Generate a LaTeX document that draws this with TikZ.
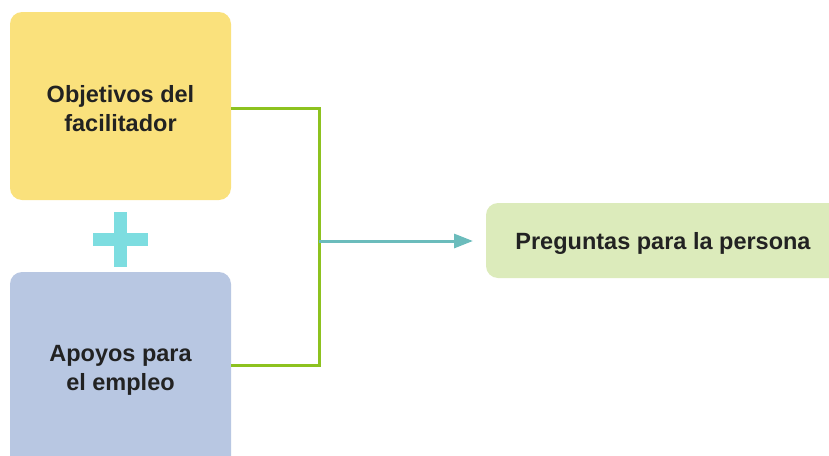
\documentclass[tikz,border=0pt]{standalone}
\usepackage{fontspec}
\setmainfont{Liberation Sans}
\usetikzlibrary{arrows.meta}
\definecolor{yel}{HTML}{FAE17C}
\definecolor{blu}{HTML}{B8C7E2}
\definecolor{grn}{HTML}{DCEBBB}
\definecolor{lin}{HTML}{8DC21F}
\definecolor{tea}{HTML}{6BBCBC}
\definecolor{plu}{HTML}{7DDDE0}
\definecolor{txt}{HTML}{222222}
\begin{document}
\begin{tikzpicture}[x=1pt,y=-1pt,
  box/.style={font=\bfseries\fontsize{23.5}{29}\selectfont,text=txt,align=center},
  conn/.style={draw=lin,line width=3pt},
  arr/.style={draw=tea,line width=3pt,-{Triangle[length=19pt,width=14pt]}}]
\path[use as bounding box] (0,0) rectangle (829,455);
\begin{scope}
\clip (0,0) rectangle (829,455);
\fill[yel,rounded corners=12pt] (10,12) rectangle (231,200);
\fill[blu,rounded corners=12pt] (10,272) rectangle (231,480);
\fill[grn,rounded corners=12pt] (486,203) rectangle (860,278);
\end{scope}
\node[box] (a) at (120.5,109) {Objetivos del\\facilitador};
\node[box] (b) at (120.5,370) {Apoyos para\\el empleo};
\node[box] (c) at (663,243) {Preguntas para la persona};
\coordinate (ar) at (231,108);
\coordinate (br) at (231,365);
\coordinate (j1) at (319,108);
\coordinate (j2) at (319,365);
\coordinate (m) at (319,241);
\coordinate (tip) at (473,241);
\draw[conn] (ar) -- (j1) -- (j2) -- (br);
\draw[arr] (m) -- (tip);
\fill[plu] (93,233) rectangle (148,246);
\fill[plu] (114,212) rectangle (127,267);
\end{tikzpicture}
\end{document}
